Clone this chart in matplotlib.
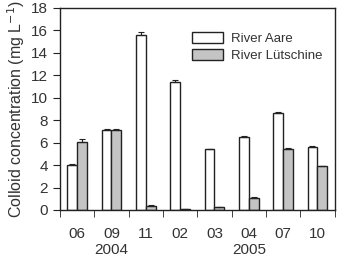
import numpy as np
from matplotlib import pyplot as plt

months = ['06', '09', '11', '02', '03', '04', '07', '10']
years = ['2004', '2005']
year_pos = [1, 5]
aare = [4.0, 7.1, 15.6, 11.4, 5.4, 6.5, 8.6, 5.6]
aare_err = [0.1, 0.1, 0.25, 0.15, 0.05, 0.05, 0.1, 0.1]
lutsch = [6.1, 7.1, 0.35, 0.1, 0.25, 1.1, 5.4, 3.9]
lutsch_err = [0.2, 0.1, 0.1, 0.02, 0.02, 0.05, 0.1, 0.05]

plt.rcParams['font.family'] = ['Liberation Sans', 'DejaVu Sans']
txt = '#333333'

fig = plt.figure(figsize=(3.37, 2.57), dpi=100)
ax = fig.add_axes([0.178, 0.183, 0.815, 0.786])

x = np.arange(len(months))
w = 0.29
edge = '#222222'
ax.bar(x - w/2, aare, w, color='white', edgecolor=edge, linewidth=1.0,
       yerr=[np.zeros(len(aare)), aare_err], capsize=2.5,
       error_kw=dict(ecolor=edge, elinewidth=0.8, capthick=0.8), label='River Aare')
ax.bar(x + w/2, lutsch, w, color='#c4c4c4', edgecolor=edge, linewidth=1.0,
       yerr=[np.zeros(len(lutsch)), lutsch_err], capsize=2.5,
       error_kw=dict(ecolor=edge, elinewidth=0.8, capthick=0.8), label='River Lütschine')

ax.set_xlim(-0.5, len(months) - 0.5)
ax.set_ylim(0, 18)
ax.set_yticks(range(0, 19, 2))
ax.set_xticks(x)
ax.set_xticklabels(months)
ax.tick_params(axis='x', which='major', length=0, pad=12, labelsize=11, labelcolor=txt)
ax.set_xticks(np.arange(-0.5, len(months), 1), minor=True)
ax.tick_params(axis='x', which='minor', length=5, direction='out', color=edge)
ax.tick_params(axis='y', length=5, direction='out', labelsize=11, labelcolor=txt, color=edge)

for yr, p in zip(years, year_pos):
    ax.text(p, -0.165, yr, transform=ax.get_xaxis_transform(), ha='center', va='top',
            fontsize=11, color=txt)

ax.set_ylabel('Colloid concentration (mg L$^{-1}$)', fontsize=11.5, color=txt, labelpad=3)

for s in ax.spines.values():
    s.set_color(edge)
    s.set_linewidth(1.0)

leg = ax.legend(loc='upper right', bbox_to_anchor=(1.0, 0.94), frameon=False, fontsize=9.5,
                handlelength=2.4, handleheight=0.9, handletextpad=0.6, labelspacing=0.3)
for t in leg.get_texts():
    t.set_color(txt)

fig.savefig('out.png', dpi=100)
